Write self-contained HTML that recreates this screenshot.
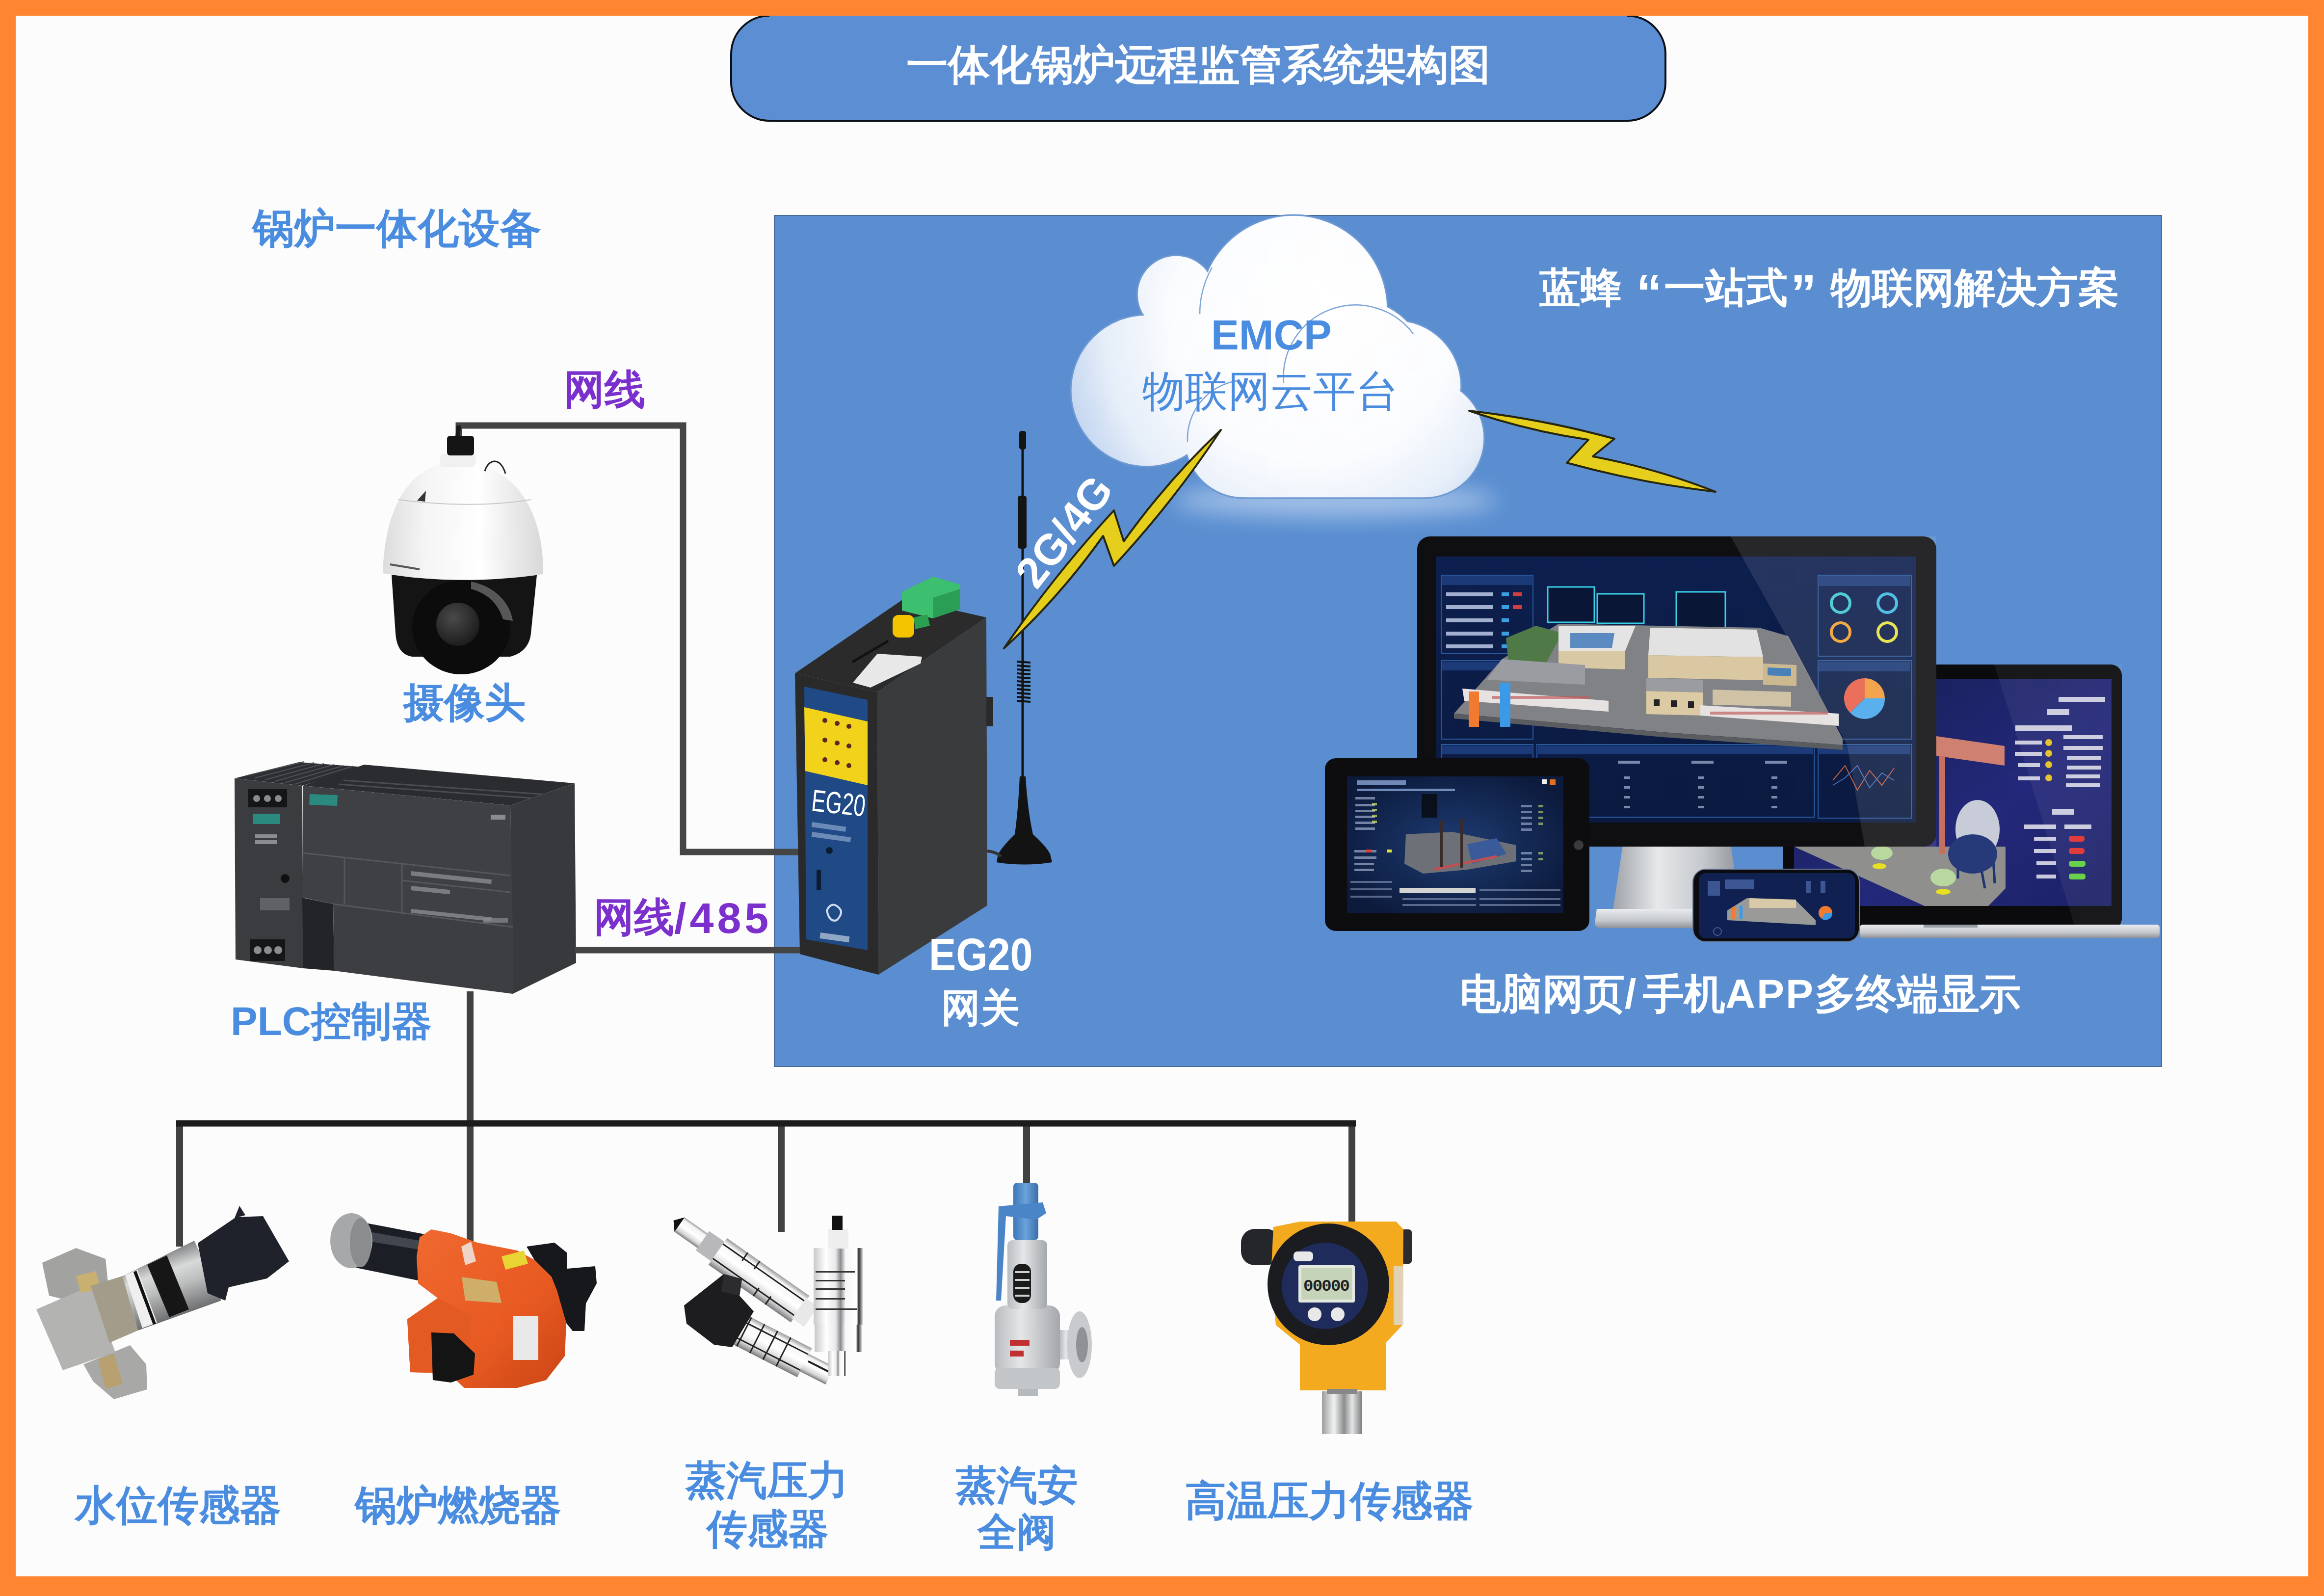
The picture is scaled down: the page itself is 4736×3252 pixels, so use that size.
<!DOCTYPE html>
<html><head><meta charset="utf-8">
<style>
html,body{margin:0;padding:0;}
body{width:4736px;height:3252px;overflow:hidden;background:#ff8530;position:relative;font-family:"Liberation Sans",sans-serif;}
#page{position:absolute;left:32px;top:32px;width:4672px;height:3180px;background:#fcfcfc;}
svg{position:absolute;left:0;top:0;}
.t{position:absolute;white-space:nowrap;font-weight:bold;line-height:1;}
.b{color:#4a8de0;}
.p{color:#7b2fcc;}
.w{color:#ffffff;}
</style></head>
<body>
<div id="page"></div>
<svg width="4736" height="3252" viewBox="0 0 4736 3252">
<defs>
  <radialGradient id="cg" gradientUnits="userSpaceOnUse" cx="2660" cy="680" r="520" fx="2700" fy="620">
    <stop offset="0" stop-color="#ffffff"/>
    <stop offset="0.55" stop-color="#fbfcfe"/>
    <stop offset="0.8" stop-color="#e6eef9"/>
    <stop offset="1" stop-color="#bcd1ee"/>
  </radialGradient>
  <linearGradient id="silver" x1="0" y1="0" x2="1" y2="0">
    <stop offset="0" stop-color="#9a9ca0"/><stop offset="0.5" stop-color="#e8e9eb"/><stop offset="1" stop-color="#8e9094"/>
  </linearGradient>
  <linearGradient id="cbot" gradientUnits="userSpaceOnUse" x1="0" y1="775" x2="0" y2="1013">
    <stop offset="0" stop-color="#ffffff"/><stop offset="0.75" stop-color="#f5f8fc"/><stop offset="1" stop-color="#d3e1f2"/>
  </linearGradient>
</defs>
<!-- title box -->
<rect x="1490" y="32" width="1904" height="214" rx="78" ry="78" fill="#5b8ed2"/>
<path d="M1568 32 A78 78 0 0 0 1490 110 V168 A78 78 0 0 0 1568 246 H3316 A78 78 0 0 0 3394 168 V110 A78 78 0 0 0 3316 32" fill="none" stroke="#0b0f18" stroke-width="4"/>
<!-- big blue panel -->
<rect x="1578" y="439" width="2827" height="1734" fill="#5a8ed0" stroke="#4a6a98" stroke-width="2"/>

<!-- CLOUD -->
<defs><filter id="blur30" x="-50%" y="-50%" width="200%" height="200%"><feGaussianBlur stdDeviation="22"/></filter></defs>
<ellipse cx="2720" cy="1020" rx="330" ry="34" fill="#b8d0f0" opacity="0.75" filter="url(#blur30)"/>
<g id="cloud">
  <g fill="#b9cfee" stroke="#6d98d2" stroke-width="3">
    <circle cx="2397" cy="600" r="80"/>
    <circle cx="2636" cy="630" r="192"/>
    <circle cx="2337" cy="796" r="155"/>
    <circle cx="2843" cy="787" r="135"/>
    <circle cx="2762" cy="756" r="147"/>
    <circle cx="2903" cy="893" r="122"/>
    <circle cx="2534" cy="895" r="120"/>
    <rect x="2534" y="773" width="369" height="242"/>
  </g>
  <g fill="url(#cg)">
    <circle cx="2397" cy="600" r="78"/>
    <circle cx="2636" cy="630" r="190"/>
    <circle cx="2337" cy="796" r="153"/>
    <circle cx="2843" cy="787" r="133"/>
    <circle cx="2762" cy="756" r="145"/>
    <circle cx="2903" cy="893" r="120"/>
    <circle cx="2534" cy="895" r="118"/>
    <rect x="2534" y="775" width="369" height="238"/>
    <polygon points="2400,650 2500,560 2700,700 2600,850 2450,800"/>
    <polygon points="2700,700 2850,640 2950,800 2800,900 2650,850"/>
  </g>
  <g fill="none" stroke="#7ea5d8" stroke-width="2.5">
    <path d="M2616 780 A147 147 0 0 1 2880 680"/>
    <path d="M2420 900 A120 120 0 0 1 2520 776"/>
    <path d="M2445 640 A192 192 0 0 1 2470 545"/>
  </g>
</g>

<!-- lines -->
<g fill="none" stroke="#454545" stroke-width="13" stroke-linejoin="miter">
  <path d="M935 895 V867 H1392 V1736 H1632"/>
  <path d="M1174 1936 H1634"/>
</g>
<g fill="none" stroke="#414141" stroke-width="14">
  <path d="M958 2020 V2289"/>
  <path d="M366 2289 V2540"/>
  <path d="M958 2289 V2530"/>
  <path d="M1592 2289 V2510"/>
  <path d="M2092 2289 V2410"/>
  <path d="M2755 2289 V2490"/>
</g>
<path d="M359 2289 H2763" stroke="#1c1c1c" stroke-width="13" fill="none"/>

<!-- PLC -->
<g id="plc">
  <polygon points="478,1586 609,1553 742,1563 616,1601" fill="#2c2e31"/>
  <g stroke="#505256" stroke-width="2">
    <line x1="500" y1="1581" x2="620" y2="1552"/><line x1="520" y1="1585" x2="640" y2="1554"/>
    <line x1="540" y1="1589" x2="660" y2="1556"/><line x1="560" y1="1592" x2="680" y2="1558"/>
    <line x1="580" y1="1595" x2="700" y2="1560"/><line x1="600" y1="1598" x2="720" y2="1561"/>
  </g>
  <polygon points="478,1586 616,1601 618,1973 480,1955" fill="#3a3c3f"/>
  <polygon points="618,1601 742,1558 1171,1596 1040,1641" fill="#2a2c2f"/>
  <g stroke="#4a4c50" stroke-width="3">
    <line x1="700" y1="1590" x2="1130" y2="1620"/><line x1="690" y1="1598" x2="1110" y2="1628"/>
  </g>
  <polygon points="1040,1641 1171,1596 1174,1962 1045,2025" fill="#37393c"/>
  <polygon points="618,1601 1040,1641 1045,1889 679,1842 618,1829" fill="#3e4043"/>
  <polygon points="616,1829 679,1842 681,1978 618,1973" fill="#232427"/>
  <polygon points="679,1842 1045,1889 1045,2025 681,1978" fill="#3c3e41"/>
  <g stroke="#55575b" stroke-width="3" fill="none">
    <line x1="618" y1="1738" x2="1040" y2="1784"/>
    <line x1="819" y1="1794" x2="1040" y2="1818"/>
    <line x1="702" y1="1746" x2="702" y2="1842"/>
    <line x1="819" y1="1760" x2="819" y2="1862"/>
    <line x1="679" y1="1842" x2="1045" y2="1889"/>
  </g>
  <g fill="#7a7c80">
    <rect x="838" y="1775" width="165" height="9" transform="rotate(6 838 1775)"/>
    <rect x="838" y="1805" width="80" height="9" transform="rotate(6 838 1805)"/>
    <rect x="838" y="1852" width="165" height="8" transform="rotate(6 838 1852)"/>
  </g>
  <rect x="631" y="1618" width="57" height="22" fill="#2a8a80" transform="rotate(2 631 1618)"/>
  <rect x="515" y="1658" width="56" height="21" fill="#2a8a80"/>
  <rect x="506" y="1608" width="79" height="37" fill="#151618"/>
  <g fill="#8a8c90"><circle cx="523" cy="1627" r="7"/><circle cx="545" cy="1627" r="7"/><circle cx="567" cy="1627" r="7"/></g>
  <rect x="510" y="1914" width="71" height="44" fill="#151618"/>
  <g fill="#8a8c90"><circle cx="525" cy="1936" r="8"/><circle cx="546" cy="1936" r="8"/><circle cx="567" cy="1936" r="8"/></g>
  <circle cx="581" cy="1790" r="9" fill="#101010"/>
  <rect x="520" y="1700" width="45" height="8" fill="#8a8c90"/><rect x="520" y="1712" width="45" height="8" fill="#8a8c90"/>
  <rect x="530" y="1830" width="60" height="25" fill="#7a7c80" opacity="0.6"/>
  <rect x="1000" y="1660" width="30" height="10" fill="#8a8c90"/><rect x="985" y="1870" width="50" height="10" fill="#8a8c90" opacity="0.7"/>
</g>

<!-- CAMERA -->
<g id="camera">
  <defs>
    <linearGradient id="domeg" x1="0" y1="0" x2="1" y2="0">
      <stop offset="0" stop-color="#dcdcdc"/><stop offset="0.25" stop-color="#f4f4f4"/><stop offset="0.6" stop-color="#ffffff"/><stop offset="1" stop-color="#d8d8d8"/>
    </linearGradient>
    <radialGradient id="lensg" cx="0.4" cy="0.35" r="0.7">
      <stop offset="0" stop-color="#4a4a4a"/><stop offset="1" stop-color="#1a1a1a"/>
    </radialGradient>
  </defs>
  <path d="M935 867 L932 895" stroke="#1a1a1a" stroke-width="9" fill="none"/>
  <path d="M798 1172 L806 1290 C808 1320 820 1335 840 1338 L1040 1338 C1070 1330 1080 1310 1082 1290 L1094 1172 Z" fill="#141414"/>
  <ellipse cx="940" cy="1278" rx="100" ry="96" fill="#0c0c0c"/>
  <path d="M960 1185 C1010 1195 1040 1230 1045 1265 L1025 1262 C1015 1230 995 1210 960 1200 Z" fill="#6a6a6a" opacity="0.8"/>
  <circle cx="933" cy="1272" r="44" fill="url(#lensg)"/>
  <path d="M900 945 C835 962 784 1030 780 1168 C880 1186 1000 1186 1107 1170 C1108 1040 1050 962 969 945 Z" fill="url(#domeg)"/>
  <path d="M812 1018 C900 1030 1000 1032 1082 1018" stroke="#c8c8c8" stroke-width="2" fill="none"/>
  <rect x="896" y="925" width="73" height="26" rx="8" fill="#f0f0f0"/>
  <rect x="911" y="888" width="55" height="40" rx="6" fill="#151515"/>
  <path d="M988 960 C995 935 1020 930 1030 965" stroke="#222" stroke-width="3" fill="none"/>
  <path d="M795 1150 L855 1160" stroke="#555" stroke-width="4"/>
  <path d="M850 1020 L868 1000 L866 1022 Z" fill="#333"/>
</g>

<!-- EG20 DEVICE -->
<g id="eg20">
  <!-- cables already drawn -->
  <polygon points="1620,1372 1842,1220 2010,1258 1788,1410" fill="#2b2b2c"/>
  <polygon points="1788,1410 2010,1258 2012,1845 1790,1986" fill="#3a3b3d"/>
  <polygon points="1620,1372 1788,1410 1790,1986 1630,1944" fill="#2a2a2b"/>
  <polygon points="1639,1399 1768,1426 1768,1936 1643,1914" fill="#1f4a86"/>
  <polygon points="1639,1441 1768,1470 1768,1600 1641,1571" fill="#f2d21a"/>
  <g fill="#5a2a20">
    <circle cx="1681" cy="1468" r="5"/><circle cx="1706" cy="1474" r="5"/><circle cx="1730" cy="1480" r="5"/>
    <circle cx="1681" cy="1508" r="5"/><circle cx="1706" cy="1514" r="5"/><circle cx="1730" cy="1520" r="5"/>
    <circle cx="1681" cy="1548" r="5"/><circle cx="1706" cy="1554" r="5"/><circle cx="1730" cy="1560" r="5"/>
  </g>
  <polygon points="1738,1391 1788,1332 1879,1338 1876,1352 1774,1401" fill="#e8e8e8"/>
  <line x1="1737" y1="1349" x2="1810" y2="1306" stroke="#111" stroke-width="5"/>
  <polygon points="1838,1206 1901,1175 1957,1191 1957,1241 1901,1260 1838,1244" fill="#3cbf6e"/>
  <polygon points="1901,1218 1957,1200 1957,1241 1901,1260" fill="#2a9e55"/>
  <polygon points="1862,1258 1890,1252 1895,1275 1865,1282" fill="#2aa050"/>
  <rect x="1819" y="1253" width="44" height="46" rx="12" fill="#f4c400"/>
  <rect x="2010" y="1420" width="14" height="60" fill="#2a2a2b"/>
  <!-- panel text -->
  <text x="0" y="0" font-family="Liberation Sans" font-size="50" fill="#ffffff" transform="translate(1652 1652) rotate(6) scale(0.86 1.25)">EG20</text>
  <rect x="1655" y="1675" width="70" height="10" fill="#9fb6d8" opacity="0.6" transform="rotate(8 1655 1675)"/>
  <rect x="1655" y="1695" width="80" height="10" fill="#9fb6d8" opacity="0.6" transform="rotate(8 1655 1695)"/>
  <circle cx="1690" cy="1733" r="7" fill="#0d1c33"/>
  <rect x="1664" y="1772" width="9" height="42" fill="#0d1c33"/>
  <rect x="1672" y="1900" width="60" height="12" fill="#c0cde0" opacity="0.7" transform="rotate(8 1672 1900)"/>
  <path d="M1685 1855 q10 -20 25 -5 q10 10 -5 25 q-15 5 -20 -20z" fill="none" stroke="#d0dcf0" stroke-width="4"/>
</g>
<!-- ANTENNA -->
<g id="antenna">
  <line x1="2084" y1="890" x2="2084" y2="1620" stroke="#151515" stroke-width="5"/>
  <rect x="2077" y="878" width="14" height="38" rx="5" fill="#151515"/>
  <rect x="2074" y="1010" width="18" height="108" rx="5" fill="#141414"/>
  <g stroke="#111" stroke-width="4">
    <line x1="2072" y1="1348" x2="2100" y2="1350"/><line x1="2072" y1="1356" x2="2100" y2="1358"/>
    <line x1="2072" y1="1364" x2="2100" y2="1366"/><line x1="2072" y1="1372" x2="2100" y2="1374"/>
    <line x1="2072" y1="1380" x2="2100" y2="1382"/><line x1="2072" y1="1388" x2="2100" y2="1390"/>
    <line x1="2072" y1="1396" x2="2100" y2="1398"/><line x1="2072" y1="1404" x2="2100" y2="1406"/>
    <line x1="2072" y1="1412" x2="2100" y2="1414"/><line x1="2072" y1="1420" x2="2100" y2="1422"/>
    <line x1="2072" y1="1428" x2="2100" y2="1430"/>
  </g>
  <path d="M2078 1582 L2090 1582 Q2094 1650 2105 1700 Q2130 1722 2140 1740 L2144 1757 Q2088 1766 2031 1757 L2034 1740 Q2045 1722 2068 1700 Q2075 1650 2078 1582 Z" fill="#131313"/>
  <path d="M2012 1734 Q2030 1736 2040 1745" stroke="#333" stroke-width="6" fill="none"/>
</g>

<!-- SENSORS -->
<defs>
  <linearGradient id="steel" x1="0" y1="0" x2="0" y2="1">
    <stop offset="0" stop-color="#8c8e90"/><stop offset="0.35" stop-color="#e9eaea"/><stop offset="0.6" stop-color="#b8babc"/><stop offset="1" stop-color="#6f7173"/>
  </linearGradient>
  <linearGradient id="steelv" x1="0" y1="0" x2="1" y2="0">
    <stop offset="0" stop-color="#9a9c9e"/><stop offset="0.3" stop-color="#f2f2f2"/><stop offset="0.55" stop-color="#8a8c8e"/><stop offset="0.75" stop-color="#e6e6e6"/><stop offset="1" stop-color="#7a7c7e"/>
  </linearGradient>
  <linearGradient id="orangeg" x1="0" y1="0" x2="1" y2="1">
    <stop offset="0" stop-color="#f06a30"/><stop offset="0.6" stop-color="#e85a22"/><stop offset="1" stop-color="#c94515"/>
  </linearGradient>
  <linearGradient id="valveg" x1="0" y1="0" x2="1" y2="0">
    <stop offset="0" stop-color="#b9bcc0"/><stop offset="0.4" stop-color="#e4e6e8"/><stop offset="1" stop-color="#a4a7ab"/>
  </linearGradient>
  <linearGradient id="blueg" x1="0" y1="0" x2="1" y2="0">
    <stop offset="0" stop-color="#3f78b8"/><stop offset="0.5" stop-color="#6aa2dc"/><stop offset="1" stop-color="#3a6ea8"/>
  </linearGradient>
</defs>
<!-- water level sensor -->
<g id="wls">
  <defs>
    <linearGradient id="cylg" gradientUnits="userSpaceOnUse" x1="300" y1="2560" x2="345" y2="2690">
      <stop offset="0" stop-color="#7e8082"/><stop offset="0.3" stop-color="#d8d9d9"/><stop offset="0.55" stop-color="#bdbebe"/><stop offset="1" stop-color="#6a6c6e"/>
    </linearGradient>
  </defs>
  <polygon points="86,2573 155,2543 215,2565 222,2632 160,2655 100,2640" fill="#a2a2a0"/>
  <polygon points="170,2780 265,2741 298,2780 300,2831 232,2851 190,2815" fill="#a8a8a6"/>
  <polygon points="200,2770 232,2758 250,2820 215,2830" fill="#b8a070"/>
  <polygon points="74,2668 185,2620 235,2755 128,2792" fill="#b3b3b1"/>
  <polygon points="155,2600 195,2590 205,2625 165,2635" fill="#c8b070"/>
  <polygon points="185,2620 250,2600 281,2711 223,2736" fill="#a39c8a"/>
  <polygon points="250,2600 396,2528 451,2650 281,2711" fill="url(#cylg)"/>
  <polygon points="255,2598 280,2587 320,2695 290,2706" fill="#efefef"/>
  <polygon points="300,2577 340,2558 385,2668 345,2684" fill="#161616"/>
  <polygon points="272,2592 278,2589 318,2697 312,2699" fill="#111"/>
  <polygon points="403,2533 481,2480 536,2478 589,2570 544,2605 466,2623 459,2650 423,2635" fill="#1f222a"/>
  <polygon points="478,2482 488,2457 500,2476" fill="#1f222a"/>
</g>
<!-- burner -->
<g id="burner">
  <polygon points="725,2488 866,2515 866,2612 725,2583" fill="#1b1e25"/>
  <polygon points="725,2505 866,2530 866,2548 725,2525" fill="#4b505a" opacity="0.8"/>
  <ellipse cx="716" cy="2528" rx="43" ry="56" fill="#a7a8aa"/>
  <ellipse cx="735" cy="2532" rx="22" ry="50" fill="#8b8c8e"/>
  <polygon points="1073,2540 1130,2532 1156,2553 1156,2585 1213,2580 1216,2615 1194,2656 1191,2712 1167,2712 1154,2696 1124,2602 1089,2567" fill="#17181b"/>
  <polygon points="855,2521 879,2505 919,2513 973,2532 1054,2548 1089,2567 1124,2602 1135,2629 1154,2696 1151,2763 1113,2812 1054,2828 946,2828 914,2798 836,2796 830,2688 892,2645 852,2615 849,2561" fill="url(#orangeg)"/>
  <polygon points="830,2688 892,2645 960,2680 955,2800 914,2798 836,2796" fill="#e35a22"/>
  <polygon points="879,2715 925,2717 968,2758 965,2801 919,2817 882,2812" fill="#141414"/>
  <polygon points="1022,2560 1068,2548 1076,2575 1030,2587" fill="#e8d432"/>
  <rect x="1046" y="2682" width="51" height="89" fill="#e9e9e9"/>
  <polygon points="941,2602 1012,2612 1022,2655 948,2650" fill="#cfae6a"/>
  <polygon points="940,2540 960,2530 970,2570 948,2578" fill="#f0f0f0" opacity="0.8"/>
</g>
<!-- steam pressure sensors -->
<g id="sps">
  <defs>
    <linearGradient id="chrome" x1="0" y1="0" x2="0" y2="1">
      <stop offset="0" stop-color="#9a9a9c"/><stop offset="0.15" stop-color="#f4f4f4"/><stop offset="0.5" stop-color="#ffffff"/><stop offset="0.8" stop-color="#d6d6d8"/><stop offset="1" stop-color="#7a7a7c"/>
    </linearGradient>
    <linearGradient id="chromev" x1="0" y1="0" x2="1" y2="0">
      <stop offset="0" stop-color="#c8c8ca"/><stop offset="0.25" stop-color="#ffffff"/><stop offset="0.45" stop-color="#e8e8ea"/><stop offset="0.55" stop-color="#8a8a8e"/><stop offset="0.65" stop-color="#f6f6f6"/><stop offset="0.88" stop-color="#ffffff"/><stop offset="0.92" stop-color="#2a2a2c"/><stop offset="1" stop-color="#cfcfd1"/>
    </linearGradient>
  </defs>
  <g transform="rotate(35 1520 2590)">
    <rect x="1355" y="2572" width="60" height="36" fill="url(#chrome)"/>
    <polygon points="1355,2572 1340,2590 1355,2608" fill="#111"/>
    <rect x="1412" y="2566" width="40" height="48" fill="#b8b8ba"/>
    <rect x="1450" y="2557" width="205" height="66" fill="url(#chrome)"/>
    <g fill="#222"><rect x="1450" y="2570" width="205" height="3"/><rect x="1450" y="2606" width="205" height="3"/><rect x="1500" y="2557" width="3" height="20"/><rect x="1530" y="2557" width="3" height="20"/><rect x="1560" y="2603" width="3" height="20"/><rect x="1590" y="2603" width="3" height="20"/></g>
    <rect x="1652" y="2565" width="30" height="50" fill="#e8e8e8"/>
  </g>
  <g transform="rotate(27 1560 2735)">
    <rect x="1480" y="2703" width="170" height="66" fill="url(#chrome)"/>
    <g fill="#222"><rect x="1480" y="2716" width="170" height="3"/><rect x="1480" y="2752" width="170" height="3"/><rect x="1510" y="2703" width="3" height="66"/><rect x="1540" y="2703" width="3" height="66"/><rect x="1570" y="2703" width="3" height="66"/><rect x="1600" y="2703" width="3" height="66"/></g>
    <rect x="1648" y="2716" width="60" height="40" fill="url(#chrome)"/>
    <rect x="1655" y="2728" width="50" height="4" fill="#222"/>
  </g>
  <polygon points="1394,2660 1475,2596 1512,2606 1507,2640 1536,2672 1492,2745 1455,2740 1399,2697" fill="#1d1d20"/>
  <polygon points="1475,2596 1512,2606 1507,2640 1470,2632" fill="#2c2c30"/>
  <rect x="1658" y="2543" width="100" height="156" fill="url(#chromev)"/>
  <rect x="1660" y="2699" width="96" height="56" fill="url(#chromev)"/>
  <rect x="1688" y="2753" width="36" height="51" fill="url(#chromev)"/>
  <rect x="1688" y="2504" width="41" height="40" fill="#eeeeee"/>
  <rect x="1695" y="2477" width="22" height="29" fill="#111"/>
  <g fill="#333"><rect x="1662" y="2590" width="80" height="3"/><rect x="1662" y="2608" width="60" height="3"/><rect x="1662" y="2625" width="60" height="3"/><rect x="1662" y="2645" width="60" height="3"/><rect x="1662" y="2666" width="85" height="3"/></g>
</g>
<!-- safety valve -->
<g id="valve">
  <rect x="2027" y="2660" width="133" height="140" rx="22" fill="url(#valveg)"/>
  <rect x="2053" y="2527" width="81" height="140" rx="10" fill="url(#valveg)"/>
  <rect x="2065" y="2575" width="36" height="80" rx="16" fill="#1b1b1b"/>
  <g stroke="#cfd1d3" stroke-width="4"><line x1="2068" y1="2592" x2="2098" y2="2592"/><line x1="2068" y1="2608" x2="2098" y2="2608"/><line x1="2068" y1="2624" x2="2098" y2="2624"/><line x1="2068" y1="2640" x2="2098" y2="2640"/></g>
  <rect x="2160" y="2710" width="30" height="60" fill="url(#valveg)"/>
  <ellipse cx="2200" cy="2740" rx="25" ry="68" fill="#c8cacd"/>
  <ellipse cx="2205" cy="2740" rx="12" ry="36" fill="#8e9195"/>
  <rect x="2027" y="2787" width="133" height="43" rx="10" fill="#c3c6c9"/>
  <rect x="2075" y="2830" width="40" height="14" fill="#b7babd"/>
  <rect x="2065" y="2410" width="51" height="117" rx="8" fill="url(#blueg)"/>
  <polygon points="2035,2458 2125,2450 2132,2472 2112,2485 2050,2478 2040,2650 2030,2650" fill="#4a85c8"/>
  <g fill="#c03030"><rect x="2058" y="2730" width="40" height="12"/><rect x="2058" y="2752" width="28" height="12"/></g>
</g>
<!-- high temp transmitter -->
<g id="xmtr">
  <rect x="2529" y="2504" width="80" height="74" rx="28" fill="#24262a"/>
  <rect x="2855" y="2505" width="22" height="70" rx="6" fill="#2a2c30"/>
  <path d="M2595 2500 L2650 2489 L2845 2489 L2860 2505 L2858 2700 L2824 2736 L2824 2833 L2649 2833 L2649 2740 L2600 2700 L2590 2600 Z" fill="#f3aa1e"/>
  <rect x="2840" y="2580" width="20" height="120" fill="#dcdcdc" opacity="0.8"/>
  <circle cx="2707" cy="2617" r="124" fill="#1b1c20"/>
  <circle cx="2700" cy="2620" r="88" fill="#1f2b5a"/>
  <rect x="2646" y="2578" width="115" height="76" rx="4" fill="#e3e8e0"/>
  <rect x="2652" y="2584" width="103" height="64" fill="#c5d3b8"/>
  <text x="2656" y="2630" font-family="Liberation Mono" font-size="34" font-weight="bold" fill="#222" textLength="95">00000</text>
  <circle cx="2679" cy="2678" r="14" fill="#e8e8e8"/><circle cx="2726" cy="2678" r="14" fill="#e8e8e8"/>
  <rect x="2636" y="2550" width="40" height="20" rx="8" fill="#e8e8e8"/>
  <rect x="2694" y="2835" width="82" height="87" fill="url(#steelv)"/>
  <rect x="2704" y="2830" width="62" height="10" fill="#888"/>
</g>

<!-- MONITORS -->
<defs>
  <linearGradient id="scrg" x1="0" y1="0" x2="0" y2="1">
    <stop offset="0" stop-color="#0d1f4e"/><stop offset="1" stop-color="#0a1a40"/>
  </linearGradient>
  <linearGradient id="lapg" x1="0" y1="0" x2="1" y2="1">
    <stop offset="0" stop-color="#141f52"/><stop offset="0.6" stop-color="#24287a"/><stop offset="1" stop-color="#1c2266"/>
  </linearGradient>
  <linearGradient id="standg" x1="0" y1="0" x2="1" y2="0">
    <stop offset="0" stop-color="#9ea2a8"/><stop offset="0.35" stop-color="#e6e8ea"/><stop offset="0.7" stop-color="#c6c9cd"/><stop offset="1" stop-color="#8e9298"/>
  </linearGradient>
  <linearGradient id="baseg" x1="0" y1="0" x2="0" y2="1">
    <stop offset="0" stop-color="#e9ebee"/><stop offset="0.6" stop-color="#c5c8cc"/><stop offset="1" stop-color="#8f9399"/>
  </linearGradient>
</defs>
<g id="laptop">
  <rect x="3633" y="1354" width="691" height="540" rx="22" fill="#0b0b0d"/>
  <rect x="3656" y="1384" width="647" height="462" fill="url(#lapg)"/>
  <polygon points="3656,1725 4087,1725 4087,1810 4052,1846 3922,1846" fill="#8f8f8d"/>
  <g fill="#b8d8a0"><ellipse cx="3835" cy="1738" rx="22" ry="14"/><ellipse cx="3960" cy="1788" rx="26" ry="18"/></g>
  <g fill="#e8e020"><ellipse cx="3830" cy="1765" rx="14" ry="6"/><ellipse cx="3960" cy="1817" rx="15" ry="6"/></g>
  <g stroke="#1f3570" stroke-width="5" fill="none"><path d="M3990 1740 L3990 1790 M4030 1730 L4045 1810 M4060 1720 L4065 1800"/></g>
  
  <path d="M3946 1500 L4085 1520 L4085 1560 L3946 1540 Z" fill="#d08070"/>
  <rect x="3952" y="1540" width="12" height="200" fill="#c87060"/>
  <ellipse cx="4030" cy="1690" rx="45" ry="60" fill="#c8ccd8"/>
  <ellipse cx="4020" cy="1740" rx="50" ry="40" fill="#263a7a"/>
  <g fill="#e8e8f0" opacity="0.85">
    <rect x="4195" y="1420" width="95" height="10"/>
    <rect x="4172" y="1445" width="45" height="12"/>
    <rect x="4107" y="1478" width="115" height="12"/>
    <rect x="4106" y="1509" width="55" height="8"/><rect x="4106" y="1532" width="55" height="8"/><rect x="4112" y="1555" width="45" height="8"/><rect x="4112" y="1582" width="45" height="8"/>
    <rect x="4205" y="1498" width="80" height="8"/><rect x="4205" y="1520" width="80" height="8"/><rect x="4212" y="1540" width="70" height="8"/><rect x="4212" y="1560" width="70" height="8"/><rect x="4210" y="1578" width="70" height="8"/><rect x="4210" y="1596" width="70" height="8"/>
    <rect x="4182" y="1648" width="45" height="12"/>
    <rect x="4125" y="1680" width="65" height="9"/><rect x="4207" y="1680" width="55" height="9"/>
    <rect x="4145" y="1705" width="45" height="8"/><rect x="4145" y="1730" width="45" height="8"/><rect x="4150" y="1755" width="40" height="8"/><rect x="4150" y="1782" width="40" height="8"/>
  </g>
  <g><rect x="4216" y="1703" width="32" height="12" rx="5" fill="#e03030"/><rect x="4216" y="1728" width="32" height="12" rx="5" fill="#e03030"/><rect x="4216" y="1754" width="34" height="12" rx="5" fill="#60d040"/><rect x="4216" y="1780" width="34" height="12" rx="5" fill="#60d040"/></g>
  <g fill="#e8c020"><circle cx="4175" cy="1513" r="7"/><circle cx="4175" cy="1535" r="7"/><circle cx="4175" cy="1558" r="7"/><circle cx="4175" cy="1585" r="7"/></g>
  <polygon points="4064,1354 4324,1354 4324,1894 4230,1894 4110,1500" fill="#ffffff" opacity="0.06"/>
  <rect x="3790" y="1884" width="611" height="27" rx="6" fill="url(#baseg)"/>
  <rect x="3920" y="1884" width="110" height="6" fill="#9a9ea4"/>
</g>
<g id="imac">
  <polygon points="3307,1722 3527,1722 3548,1860 3286,1860" fill="url(#standg)"/>
  <path d="M3254 1852 L3580 1852 L3585 1880 Q3585 1891 3570 1891 L3265 1891 Q3250 1891 3250 1880 Z" fill="url(#baseg)"/>
  <rect x="2888" y="1093" width="1058" height="632" rx="26" fill="#0f0f11"/>
  <rect x="2926" y="1134" width="979" height="542" fill="url(#scrg)"/>
  <!-- left panels -->
  <g fill="none" stroke="#2a5aa0" stroke-width="2">
    <rect x="2937" y="1172" width="187" height="160"/>
    <rect x="2937" y="1346" width="187" height="160"/>
    <rect x="2937" y="1517" width="187" height="150"/>
    <rect x="3132" y="1517" width="565" height="148"/>
    <rect x="3705" y="1172" width="190" height="165"/>
    <rect x="3705" y="1346" width="190" height="160"/>
    <rect x="3705" y="1517" width="190" height="150"/>
  </g>
  <g fill="#1c3a78"><rect x="2939" y="1174" width="183" height="18"/><rect x="2939" y="1348" width="183" height="18"/><rect x="3707" y="1174" width="186" height="20"/><rect x="3707" y="1348" width="186" height="20"/><rect x="3134" y="1519" width="561" height="18"/><rect x="3707" y="1519" width="186" height="18"/><rect x="2939" y="1519" width="183" height="18"/></g>
  <g fill="#c8d4f0" opacity="0.8">
    <rect x="2947" y="1207" width="95" height="8"/><rect x="2947" y="1233" width="95" height="8"/><rect x="2947" y="1260" width="95" height="8"/><rect x="2947" y="1287" width="95" height="8"/><rect x="2947" y="1313" width="95" height="8"/>
  </g>
  <g fill="#3aa0e0"><rect x="3060" y="1207" width="15" height="8"/><rect x="3060" y="1233" width="15" height="8"/><rect x="3060" y="1260" width="15" height="8"/><rect x="3060" y="1287" width="15" height="8"/><rect x="3060" y="1313" width="15" height="8"/></g>
  <g fill="#d04040"><rect x="3083" y="1207" width="18" height="8"/><rect x="3083" y="1233" width="18" height="8"/></g>
  <!-- 3D campus -->
  <g fill="#0a1636" stroke="#3ad0e8" stroke-width="3">
    <rect x="3154" y="1196" width="95" height="72"/><rect x="3255" y="1210" width="95" height="60"/><rect x="3416" y="1206" width="100" height="75"/>
  </g>
  <polygon points="2963,1454 3061,1343 3176,1271 3585,1279 3644,1296 3755,1505 3755,1518 3389,1492" fill="#808286"/>
  <polygon points="2963,1454 3389,1492 3755,1518 3755,1528 3389,1502 2963,1464" fill="#5a5c60"/>
  <polygon points="3069,1300 3130,1275 3184,1290 3150,1352 3075,1360" fill="#4f7a48"/>
  <polygon points="3176,1275 3333,1275 3312,1326 3176,1326" fill="#e4e4e4"/>
  <polygon points="3176,1326 3312,1326 3312,1364 3176,1360" fill="#d9c8a4"/>
  <polygon points="3200,1290 3290,1290 3285,1320 3200,1320" fill="#5a8ac0"/>
  <polygon points="3363,1279 3580,1283 3593,1339 3359,1335" fill="#e2e2e2"/>
  <polygon points="3359,1335 3593,1339 3593,1386 3359,1381" fill="#d9c8a2"/>
  <polygon points="3593,1352 3661,1355 3661,1398 3593,1395" fill="#cdb98f"/>
  <polygon points="3602,1360 3650,1362 3650,1378 3602,1376" fill="#4a80b8"/>
  <polygon points="3355,1381 3470,1385 3470,1411 3355,1408" fill="#9a9ca0"/>
  <polygon points="3355,1408 3470,1411 3470,1458 3355,1455" fill="#dccaa4"/>
  <g fill="#222"><rect x="3370" y="1425" width="12" height="14"/><rect x="3405" y="1427" width="12" height="14"/><rect x="3440" y="1429" width="12" height="14"/></g>
  <polygon points="3490,1405 3650,1410 3650,1440 3490,1436" fill="#cfc2a5"/>
  <polygon points="2980,1403 3278,1428 3278,1450 2984,1428" fill="#e6e2e2"/>
  <polygon points="3465,1437 3747,1454 3747,1479 3465,1458" fill="#e6e2e2"/>
  <g fill="#c06060" opacity="0.7"><rect x="3040" y="1418" width="200" height="6"/><rect x="3485" y="1450" width="240" height="6"/></g>
  <polygon points="3061,1343 3230,1355 3230,1395 3030,1385" fill="#9a9ca2"/>
  <rect x="2993" y="1409" width="21" height="72" fill="#f07a30"/>
  <rect x="3057" y="1391" width="21" height="90" fill="#3a9ae8"/>
  <!-- table text -->
  <g fill="#aab8d8" opacity="0.7">
    <rect x="3297" y="1550" width="45" height="6"/><rect x="3447" y="1550" width="45" height="6"/><rect x="3597" y="1550" width="45" height="6"/>
    <rect x="3310" y="1582" width="12" height="5"/><rect x="3460" y="1582" width="12" height="5"/><rect x="3610" y="1582" width="12" height="5"/>
    <rect x="3310" y="1602" width="12" height="5"/><rect x="3460" y="1602" width="12" height="5"/><rect x="3610" y="1602" width="12" height="5"/>
    <rect x="3310" y="1622" width="12" height="5"/><rect x="3460" y="1622" width="12" height="5"/><rect x="3610" y="1622" width="12" height="5"/>
    <rect x="3310" y="1642" width="12" height="5"/><rect x="3460" y="1642" width="12" height="5"/><rect x="3610" y="1642" width="12" height="5"/>
  </g>
  <!-- pie -->
  <path d="M3800 1423 L3800 1382 A41 41 0 0 1 3841 1423 Z" fill="#f39a3a"/>
  <path d="M3800 1423 L3841 1423 A41 41 0 0 1 3770 1452 Z" fill="#47a7ea"/>
  <path d="M3800 1423 L3770 1452 A41 41 0 0 1 3800 1382 Z" fill="#e8604a"/>
  <!-- gauges -->
  <g fill="none" stroke-width="6"><circle cx="3751" cy="1229" r="19" stroke="#40c8d0"/><circle cx="3846" cy="1229" r="19" stroke="#40b8e0"/><circle cx="3751" cy="1288" r="19" stroke="#f0a030"/><circle cx="3846" cy="1288" r="19" stroke="#e8e040"/></g>
  <!-- chart -->
  <path d="M3735 1590 L3760 1560 L3785 1610 L3810 1570 L3835 1600 L3860 1565" fill="none" stroke="#c05a40" stroke-width="2"/>
  <path d="M3735 1600 L3760 1585 L3785 1560 L3810 1605 L3835 1575 L3860 1590" fill="none" stroke="#4a6ab0" stroke-width="2"/>
  <polygon points="3527,1093 3946,1093 3946,1725 3800,1725 3764,1517" fill="#ffffff" opacity="0.1"/>
</g>
<g id="tablet">
  <defs>
    <radialGradient id="tabg" cx="0.5" cy="0.5" r="0.6">
      <stop offset="0" stop-color="#1d3c72"/><stop offset="1" stop-color="#0c1a3c"/>
    </radialGradient>
  </defs>
  <rect x="2700" y="1545" width="539" height="352" rx="22" fill="#0d0d0f"/>
  <rect x="2745" y="1582" width="441" height="279" fill="url(#tabg)"/>
  <g fill="#9ab8e8" opacity="0.7"><rect x="2765" y="1590" width="100" height="10"/><rect x="2765" y="1607" width="200" height="5"/></g>
  <g fill="#c8d4f0" opacity="0.55"><rect x="2762" y="1624" width="40" height="5"/><rect x="2762" y="1638" width="40" height="5"/><rect x="2762" y="1650" width="40" height="5"/><rect x="2762" y="1662" width="40" height="5"/><rect x="2762" y="1674" width="40" height="5"/><rect x="2762" y="1686" width="40" height="5"/><rect x="2760" y="1732" width="45" height="5"/><rect x="2760" y="1745" width="45" height="5"/><rect x="2760" y="1758" width="40" height="5"/><rect x="2760" y="1770" width="40" height="5"/></g>
  <g fill="#d8e860" opacity="0.7"><rect x="2796" y="1636" width="10" height="5"/><rect x="2796" y="1648" width="10" height="5"/><rect x="2796" y="1660" width="10" height="5"/><rect x="2796" y="1672" width="10" height="5"/></g>
  <rect x="2784" y="1731" width="12" height="6" fill="#e04030"/><rect x="2826" y="1731" width="10" height="6" fill="#e8e040"/>
  <g fill="#c8d4f0" opacity="0.5"><rect x="3100" y="1640" width="22" height="5"/><rect x="3100" y="1652" width="22" height="5"/><rect x="3100" y="1664" width="22" height="5"/><rect x="3100" y="1676" width="22" height="5"/><rect x="3100" y="1688" width="22" height="5"/><rect x="3100" y="1736" width="22" height="5"/><rect x="3100" y="1748" width="22" height="5"/><rect x="3100" y="1760" width="22" height="5"/><rect x="3100" y="1772" width="22" height="5"/></g>
  <g fill="#d0e070" opacity="0.6"><rect x="3135" y="1640" width="10" height="5"/><rect x="3135" y="1652" width="10" height="5"/><rect x="3135" y="1664" width="10" height="5"/><rect x="3135" y="1676" width="10" height="5"/><rect x="3135" y="1736" width="10" height="5"/><rect x="3135" y="1748" width="10" height="5"/></g>
  <rect x="2897" y="1618" width="32" height="48" fill="#0a0f1c"/>
  <polygon points="2865,1700 2960,1695 3090,1722 3090,1755 2990,1772 2900,1780 2862,1760" fill="#6e7078"/>
  <polygon points="2990,1720 3050,1708 3070,1740 3000,1760" fill="#3a5a9a"/>
  <path d="M2920 1772 L3050 1745" stroke="#c05050" stroke-width="5"/>
  <rect x="2935" y="1672" width="5" height="95" fill="#3a2a2a"/><rect x="2976" y="1668" width="5" height="100" fill="#3a2a2a"/>
  <rect x="2852" y="1809" width="155" height="11" fill="#e8e8e0" opacity="0.9"/>
  <g fill="#c8d4f0" opacity="0.4"><rect x="2858" y="1830" width="150" height="4"/><rect x="2858" y="1842" width="150" height="4"/><rect x="3015" y="1812" width="165" height="4"/><rect x="3015" y="1830" width="165" height="4"/><rect x="3015" y="1842" width="165" height="4"/><rect x="2752" y="1795" width="85" height="4"/><rect x="2752" y="1810" width="85" height="4"/><rect x="2752" y="1825" width="85" height="4"/></g>
  <rect x="3142" y="1588" width="10" height="10" fill="#f0f0f0"/><rect x="3158" y="1588" width="12" height="12" fill="#e07020"/>
  <circle cx="3217" cy="1722" r="10" fill="#3a3a3c"/>
</g>
<g id="phone">
  <rect x="3450" y="1771" width="339" height="148" rx="26" fill="#0b0c10" stroke="#6a7a9a" stroke-width="2"/>
  <rect x="3462" y="1779" width="318" height="133" rx="14" fill="#102050"/>
  <polygon points="3520,1855 3560,1830 3660,1835 3700,1875 3700,1885 3520,1875" fill="#9a9a98"/>
  <polygon points="3565,1830 3660,1833 3660,1850 3565,1850" fill="#d8c9a8"/>
  <rect x="3530" y="1848" width="6" height="25" fill="#f07a30"/><rect x="3545" y="1845" width="6" height="28" fill="#3a9ae8"/>
  <circle cx="3720" cy="1860" r="14" fill="#f07a30"/><path d="M3720 1860 L3734 1860 A14 14 0 0 1 3712 1872 Z" fill="#3a9ae8"/>
  <g fill="#5a7ac0" opacity="0.6"><rect x="3480" y="1795" width="25" height="30"/><rect x="3515" y="1792" width="60" height="20"/><rect x="3680" y="1795" width="10" height="25"/><rect x="3710" y="1795" width="10" height="25"/></g>
  <circle cx="3500" cy="1898" r="8" fill="none" stroke="#4a5a8a" stroke-width="2"/>
</g>

<!-- lightning bolts -->
<g fill="#e6cf1c" stroke="#26250e" stroke-width="4" stroke-linejoin="round">
  <path d="M2488 876 Q2378 980 2290 1103 L2270 1040 Q2148 1172 2046 1321 Q2160 1216 2248 1092 L2270 1153 Q2390 1024 2488 876 Z"/>
  <path d="M2994 837 Q3144 854 3290 894 L3246 930 Q3374 954 3496 1002 Q3342 984 3193 943 L3237 896 Q3113 878 2994 837 Z"/>
</g>
</svg>

<div style="position:absolute;left:0;top:0;width:4736px;height:32px;background:#ff8530"></div>

<!-- TEXT -->
<div class="t w" style="left:1847px;top:89px;font-size:85px;">一体化锅炉远程监管系统架构图</div>
<div class="t b" style="left:515px;top:423px;font-size:84px;">锅炉一体化设备</div>
<div class="t p" style="left:1149px;top:752px;font-size:83px;">网线</div>
<div class="t b" style="left:822px;top:1390px;font-size:83px;">摄像头</div>
<div class="t b" style="left:470px;top:2040px;font-size:82px;">PLC控制器</div>
<div class="t p" style="left:1210px;top:1823px;font-size:82px;">网线<span style="font-size:88px;letter-spacing:7px;position:relative;top:4px">/485</span></div>
<div class="t b" style="left:2468px;top:640px;font-size:85px;">EMCP</div>
<div class="t b" style="left:2328px;top:753px;font-size:87px;font-weight:500;">物联网云平台</div>
<div class="t w" style="left:3137px;top:544px;font-size:84px;">蓝蜂<span style="display:inline-block;width:86px;text-align:right;font-size:105px;vertical-align:top;height:84px;padding-right:4px;box-sizing:border-box">“</span>一站式<span style="display:inline-block;width:88px;text-align:left;font-size:105px;vertical-align:top;height:84px;padding-left:6px;box-sizing:border-box">”</span>物联网解决方案</div>
<div class="t w" style="left:1893px;top:1899px;font-size:93px;transform:scaleX(0.89);transform-origin:0 0;">EG20</div>
<div class="t w" style="left:1918px;top:2014px;font-size:80px;">网关</div>
<div class="t w" style="left:2975px;top:1983px;font-size:84px;">电脑网页<span style="letter-spacing:14px">/</span>手机<span style="letter-spacing:3px">APP</span>多终端显示</div>
<div class="t w" style="left:2034px;top:1039px;width:270px;text-align:center;font-size:88px;transform:rotate(-52deg);transform-origin:50% 50%;">2G/4G</div>
<div class="t b" style="left:153px;top:3025px;font-size:84px;">水位传感器</div>
<div class="t b" style="left:724px;top:3025px;font-size:84px;">锅炉燃烧器</div>
<div class="t b" style="left:1397px;top:2975px;font-size:83px;">蒸汽压力</div>
<div class="t b" style="left:1440px;top:3074px;font-size:83px;">传感器</div>
<div class="t b" style="left:1948px;top:2985px;font-size:83px;">蒸汽安</div>
<div class="t b" style="left:1992px;top:3082px;font-size:80px;">全阀</div>
<div class="t b" style="left:2415px;top:3016px;font-size:84px;">高温压力传感器</div>
</body></html>
